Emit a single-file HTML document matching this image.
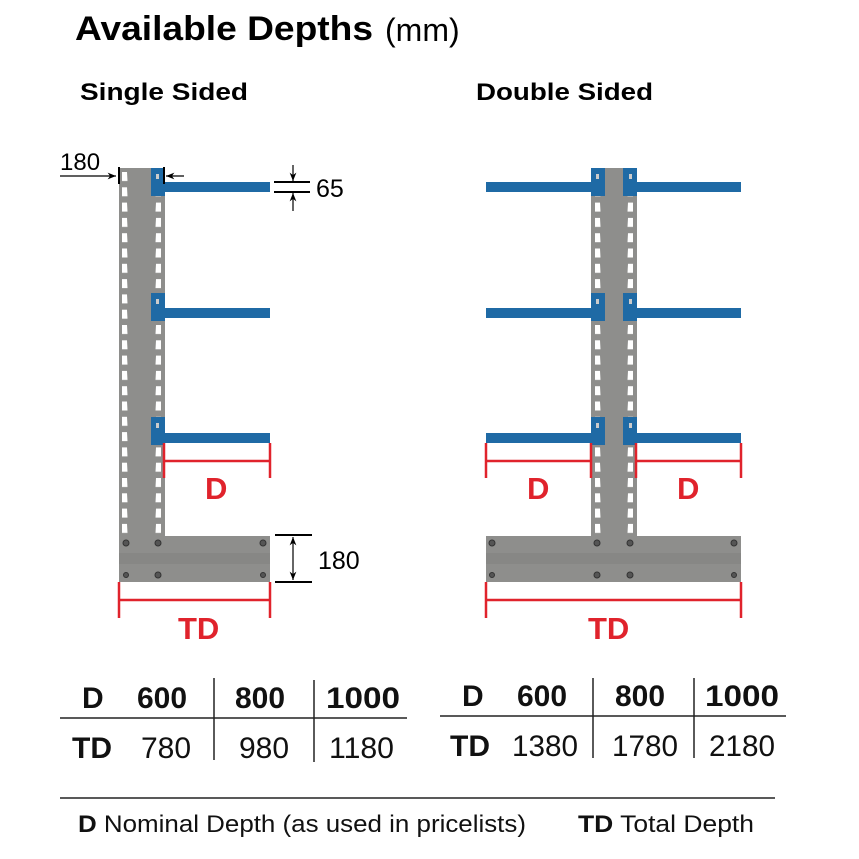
<!DOCTYPE html>
<html><head><meta charset="utf-8"><style>html,body{margin:0;padding:0;background:#fff}svg{display:block}</style></head><body>
<svg width="859" height="859" viewBox="0 0 859 859" xmlns="http://www.w3.org/2000/svg" font-family="Liberation Sans, Arial, sans-serif">
<defs>
<pattern id="h1" x="119" y="172" width="46" height="15.3" patternUnits="userSpaceOnUse">
<path d="M3 0 L8 0 L8.5 9 L3 9 Z M42 0 L37 0 L36.5 9 L42 9 Z" fill="#fff"/>
</pattern>
<pattern id="h2" x="591" y="172" width="46" height="15.3" patternUnits="userSpaceOnUse">
<path d="M4 0 L9 0 L9.5 9 L4 9 Z M42 0 L37 0 L36.5 9 L42 9 Z" fill="#fff"/>
</pattern>
<marker id="ar" viewBox="0 0 10 10" refX="10" refY="5" markerWidth="7" markerHeight="7" orient="auto-start-reverse"><path d="M0 1 L10 5 L0 9 L3 5 Z" fill="#000"/></marker>
</defs>
<text x="75" y="40" font-size="34" font-weight="bold" textLength="298" lengthAdjust="spacingAndGlyphs">Available Depths</text>
<text x="385" y="41" font-size="32">(mm)</text>
<text x="80" y="100" font-size="24" font-weight="bold" textLength="168" lengthAdjust="spacingAndGlyphs">Single Sided</text>
<text x="476" y="100" font-size="24" font-weight="bold" textLength="177" lengthAdjust="spacingAndGlyphs">Double Sided</text>

<rect x="119" y="168" width="46" height="370" fill="#8e8e8c"/>
<rect x="119" y="168" width="46" height="366" fill="url(#h1)"/>
<rect x="119" y="536" width="151" height="46" fill="#8e8e8c"/>
<rect x="119" y="553" width="151" height="11" fill="#878785"/>
<g fill="#1f6aa5">
<rect x="151" y="168" width="14" height="28"/><rect x="165" y="182" width="105" height="10"/>
<rect x="151" y="293" width="14" height="28"/><rect x="165" y="308" width="105" height="10"/>
<rect x="151" y="417" width="14" height="28"/><rect x="165" y="433" width="105" height="10"/>
</g>
<g fill="#ccc"><rect x="156" y="174" width="3" height="5"/><rect x="156" y="299" width="3" height="5"/><rect x="156" y="423" width="3" height="5"/></g>
<g fill="#555" stroke="#333" stroke-width="1"><circle cx="126" cy="543" r="3"/><circle cx="158" cy="543" r="3"/><circle cx="263" cy="543" r="3"/><circle cx="158" cy="575" r="3"/><circle cx="126" cy="575" r="2.5"/><circle cx="263" cy="575" r="2.5"/></g>
<g stroke="#000" stroke-width="1.2" fill="none">
<line x1="60" y1="176" x2="116" y2="176" marker-end="url(#ar)"/>
<line x1="119" y1="167" x2="119" y2="184" stroke-width="2"/>
<line x1="164" y1="167" x2="164" y2="184" stroke-width="2"/>
<line x1="184" y1="176" x2="166" y2="176" marker-end="url(#ar)"/>
<line x1="274" y1="182" x2="310" y2="182" stroke-width="2"/>
<line x1="274" y1="192" x2="310" y2="192" stroke-width="2"/>
<line x1="293" y1="165" x2="293" y2="181" marker-end="url(#ar)"/>
<line x1="293" y1="211" x2="293" y2="193" marker-end="url(#ar)"/>
<line x1="275" y1="535" x2="312" y2="535" stroke-width="2"/>
<line x1="275" y1="582" x2="312" y2="582" stroke-width="2"/>
<line x1="293" y1="537" x2="293" y2="580" marker-start="url(#ar)" marker-end="url(#ar)"/>
</g>
<text x="60" y="170" font-size="24">180</text>
<text x="316" y="197" font-size="25">65</text>
<text x="318" y="569" font-size="25">180</text>
<g stroke="#e0232c" stroke-width="2.5">
<line x1="164" y1="443" x2="164" y2="478"/><line x1="270" y1="443" x2="270" y2="478"/><line x1="164" y1="461" x2="270" y2="461"/>
<line x1="119" y1="582" x2="119" y2="618"/><line x1="270" y1="582" x2="270" y2="618"/><line x1="119" y1="600" x2="270" y2="600"/>
</g>
<g fill="#e0232c" font-weight="bold" font-size="31"><text x="205" y="499">D</text><text x="178" y="639">TD</text></g>

<rect x="591" y="168" width="46" height="370" fill="#8e8e8c"/>
<rect x="591" y="168" width="46" height="366" fill="url(#h2)"/>
<rect x="486" y="536" width="255" height="46" fill="#8e8e8c"/>
<rect x="486" y="553" width="255" height="11" fill="#878785"/>
<g fill="#1f6aa5">
<rect x="591" y="168" width="14" height="28"/><rect x="623" y="168" width="14" height="28"/><rect x="486" y="182" width="105" height="10"/><rect x="637" y="182" width="104" height="10"/>
<rect x="591" y="293" width="14" height="28"/><rect x="623" y="293" width="14" height="28"/><rect x="486" y="308" width="105" height="10"/><rect x="637" y="308" width="104" height="10"/>
<rect x="591" y="417" width="14" height="28"/><rect x="623" y="417" width="14" height="28"/><rect x="486" y="433" width="105" height="10"/><rect x="637" y="433" width="104" height="10"/>
</g>
<g fill="#ccc"><rect x="596" y="174" width="3" height="5"/><rect x="629" y="174" width="3" height="5"/><rect x="596" y="299" width="3" height="5"/><rect x="629" y="299" width="3" height="5"/><rect x="596" y="423" width="3" height="5"/><rect x="629" y="423" width="3" height="5"/></g>
<g fill="#555" stroke="#333" stroke-width="1"><circle cx="492" cy="543" r="3"/><circle cx="597" cy="543" r="3"/><circle cx="630" cy="543" r="3"/><circle cx="734" cy="543" r="3"/><circle cx="597" cy="575" r="3"/><circle cx="630" cy="575" r="3"/><circle cx="492" cy="575" r="2.5"/><circle cx="734" cy="575" r="2.5"/></g>
<g stroke="#e0232c" stroke-width="2.5">
<line x1="486" y1="443" x2="486" y2="478"/><line x1="591" y1="443" x2="591" y2="478"/><line x1="486" y1="461" x2="591" y2="461"/>
<line x1="636" y1="443" x2="636" y2="478"/><line x1="741" y1="443" x2="741" y2="478"/><line x1="636" y1="461" x2="741" y2="461"/>
<line x1="486" y1="582" x2="486" y2="618"/><line x1="741" y1="582" x2="741" y2="618"/><line x1="486" y1="600" x2="741" y2="600"/>
</g>
<g fill="#e0232c" font-weight="bold" font-size="31"><text x="527" y="499">D</text><text x="677" y="499">D</text><text x="588" y="639">TD</text></g>

<g stroke="#222" stroke-width="1.5">
<line x1="60" y1="718" x2="407" y2="718"/><line x1="214" y1="678" x2="214" y2="760"/><line x1="314" y1="680" x2="314" y2="762"/>
<line x1="440" y1="716" x2="786" y2="716"/><line x1="593" y1="678" x2="593" y2="758"/><line x1="694" y1="678" x2="694" y2="758"/>
<line x1="60" y1="798" x2="775" y2="798"/>
</g>
<g font-size="30" fill="#111">
<g font-weight="bold"><text x="82" y="708">D</text><text x="137" y="708">600</text><text x="235" y="708">800</text><text x="326" y="708" textLength="74" lengthAdjust="spacingAndGlyphs">1000</text><text x="72" y="758">TD</text></g>
<text x="141" y="758">780</text><text x="239" y="758">980</text><text x="329" y="758" textLength="65" lengthAdjust="spacingAndGlyphs">1180</text>
<g font-weight="bold"><text x="462" y="706">D</text><text x="517" y="706">600</text><text x="615" y="706">800</text><text x="705" y="706" textLength="74" lengthAdjust="spacingAndGlyphs">1000</text><text x="450" y="756">TD</text></g>
<text x="512" y="756" textLength="66" lengthAdjust="spacingAndGlyphs">1380</text><text x="612" y="756" textLength="66" lengthAdjust="spacingAndGlyphs">1780</text><text x="709" y="756" textLength="66" lengthAdjust="spacingAndGlyphs">2180</text>
</g>
<g font-size="24" fill="#111">
<text x="78" y="832" textLength="448" lengthAdjust="spacingAndGlyphs"><tspan font-weight="bold">D</tspan> Nominal Depth (as used in pricelists)</text>
<text x="578" y="832" textLength="176" lengthAdjust="spacingAndGlyphs"><tspan font-weight="bold">TD</tspan> Total Depth</text>
</g>
</svg>
</body></html>
